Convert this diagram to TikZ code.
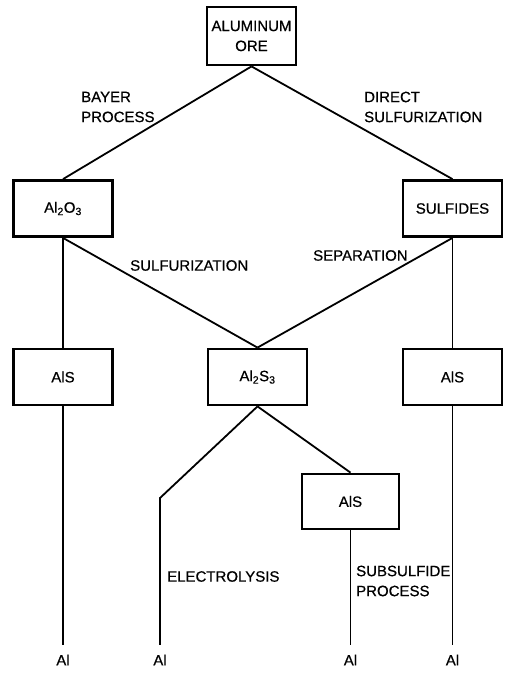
\documentclass[tikz,border=0pt]{standalone}
\usepackage{fontspec}
\setmainfont{Liberation Sans}[FakeBold=0.6]

\begin{document}
\begin{tikzpicture}[x=1pt, y=-1pt,
    box/.style={draw, line width=2.8pt, minimum width=99pt, minimum height=56pt, inner sep=0pt, align=center, font=\fontsize{15}{20}\selectfont},
    lbl/.style={inner sep=0pt, align=left, font=\fontsize{15}{20}\selectfont},
    link/.style={line width=1.8pt}]
    \useasboundingbox (0,0) rectangle (505,673);

    \node[box, minimum width=89pt, minimum height=58pt] (ore) at (251.5,36) {ALUMINUM\\ORE};
    \node[box] (alo) at (63,208.5) {Al\textsubscript{2}O\textsubscript{3}};
    \node[box] (sulf) at (452.5,208.5) {SULFIDES};
    \node[box] (alsa) at (63,377) {AlS};
    \node[box] (alss) at (257.5,377) {Al\textsubscript{2}S\textsubscript{3}};
    \node[box] (alsb) at (452.5,377) {AlS};
    \node[box, minimum width=97pt, minimum height=55pt] (alsc) at (350.5,501.5) {AlS};

    \node[lbl] (ala) at (63,660) {Al};
    \node[lbl] (alb) at (160,660) {Al};
    \node[lbl] (alc) at (350.5,660) {Al};
    \node[lbl] (ald) at (452.5,660) {Al};
    \coordinate (bend) at (160,498);

    \draw[link] (ore.south) -- (alo.north);
    \draw[link] (ore.south) -- (sulf.north);
    \draw[link] (alo.south) -- (alss.north);
    \draw[link] (sulf.south) -- (alss.north);
    \draw[link] (alo.south) -- (alsa.north);
    \draw[link] (sulf.south) -- (alsb.north);
    \draw[link] (alss.south) -- (alsc.north);
    \draw[link, shorten >=9.5pt] (alsa.south) -- (ala.north);
    \draw[link, shorten >=9.5pt] (alss.south) -- (bend) -- (alb.north);
    \draw[link, shorten >=9.5pt] (alsc.south) -- (alc.north);
    \draw[link, shorten >=9.5pt] (alsb.south) -- (ald.north);

    \node[lbl, anchor=west] (bayer) at (81,107) {BAYER\\PROCESS};
    \node[lbl, anchor=west] (direct) at (364,107) {DIRECT\\SULFURIZATION};
    \node[lbl, anchor=west] (sulfur) at (130,265.5) {SULFURIZATION};
    \node[lbl, anchor=west] (separ) at (313,255.5) {SEPARATION};
    \node[lbl, anchor=west] (electro) at (167,576.5) {ELECTROLYSIS};
    \node[lbl, anchor=west] (subsul) at (356,581) {SUBSULFIDE\\PROCESS};

\end{tikzpicture}
\end{document}
